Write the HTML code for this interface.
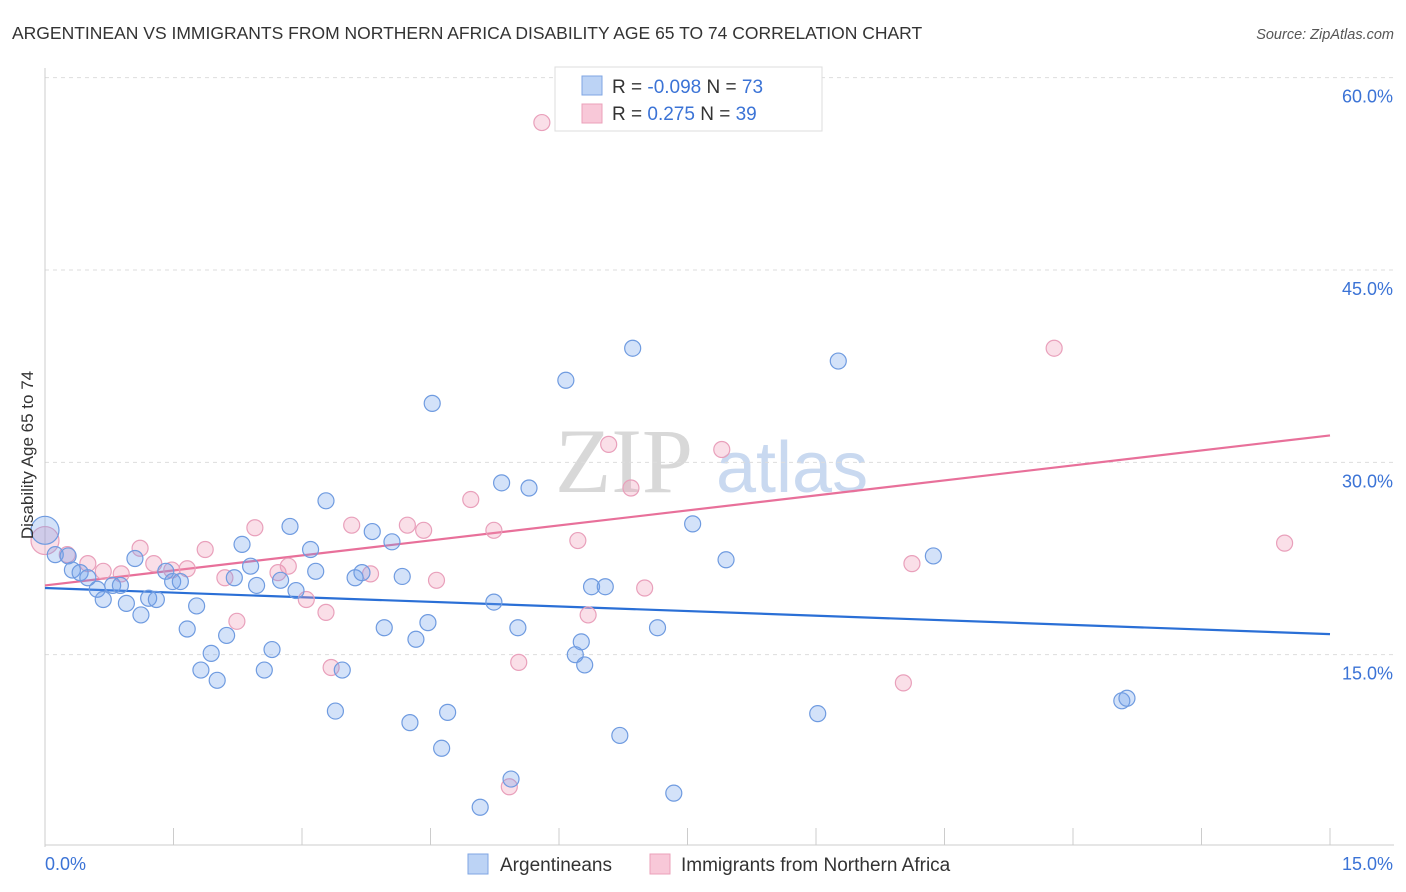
<!DOCTYPE html>
<html><head><meta charset="utf-8"><style>
body{margin:0;background:#fff;font-family:"Liberation Sans",sans-serif;}
svg{display:block}
</style></head><body>
<svg id="chart" width="1406" height="892" xmlns="http://www.w3.org/2000/svg">
<text x="12" y="39" font-size="17.5" fill="#333">ARGENTINEAN VS IMMIGRANTS FROM NORTHERN AFRICA DISABILITY AGE 65 TO 74 CORRELATION CHART</text>
<text x="1394" y="39" font-size="14.5" fill="#555" font-style="italic" text-anchor="end">Source: ZipAtlas.com</text>
<g>
<text x="555" y="492" font-size="92" fill="#d8d8d8" font-family="Liberation Serif,serif">ZIP</text>
<text x="716" y="492" font-size="72" fill="#c9d9f0">atlas</text>
</g>
<g id="grid"></g><g id="axes"></g><g id="lines"></g><g id="points"></g>
<text transform="translate(33,455) rotate(-90)" font-size="17" fill="#333" text-anchor="middle">Disability Age 65 to 74</text>
<g>
<rect x="555" y="67" width="267" height="64" fill="#fff" stroke="#ddd"/>
<rect x="582" y="76" width="20" height="19" fill="#bcd3f5" stroke="#7fa6e3"/>
<rect x="582" y="104" width="20" height="19" fill="#f8c8d8" stroke="#eba0ba"/>
<text x="612" y="93" font-size="19" fill="#333">R = <tspan fill="#3b73d6">-0.098</tspan>   N = <tspan fill="#3b73d6">73</tspan></text>
<text x="612" y="120" font-size="19" fill="#333">R =   <tspan fill="#3b73d6">0.275</tspan>   N = <tspan fill="#3b73d6">39</tspan></text>
</g>
<g>
<rect x="468" y="854" width="20" height="20" fill="#bcd3f5" stroke="#7fa6e3"/>
<text x="500" y="871" font-size="19" fill="#333">Argentineans</text>
<rect x="650" y="854" width="20" height="20" fill="#f8c8d8" stroke="#eba0ba"/>
<text x="681" y="871" font-size="19" fill="#333">Immigrants from Northern Africa</text>
</g>
</svg>
<script>
const yTicks=[15,30,45,60];
const yTickLabels=["15.0%","30.0%","45.0%","60.0%"];
const xTickLabels=["0.0%","15.0%"];
const blueX=[0,0.12,0.27,0.32,0.41,0.50,0.61,0.68,0.79,0.88,0.95,1.05,1.12,1.21,1.30,1.41,1.49,1.58,1.66,1.77,1.82,1.94,2.01,2.12,2.21,2.30,2.40,2.47,2.56,2.65,2.75,2.86,2.93,3.10,3.16,3.28,3.39,3.47,3.62,3.70,3.82,3.96,4.05,4.17,4.26,4.33,4.47,4.52,4.63,4.70,5.24,5.33,5.44,5.52,5.65,6.08,6.19,6.26,6.30,6.38,6.54,6.71,6.86,7.15,7.34,5.08,7.56,7.95,9.02,9.26,10.37,12.57,12.63];
const blueY=[24.7,22.8,22.7,21.6,21.4,21.0,20.1,19.3,20.4,20.4,19.0,22.5,18.1,19.4,19.3,21.5,20.7,20.7,17.0,18.8,13.8,15.1,13.0,16.5,21.0,23.6,21.9,20.4,13.8,15.4,20.8,25.0,20.0,23.2,21.5,27.0,10.6,13.8,21.0,21.4,24.6,17.1,23.8,21.1,9.7,16.2,17.5,34.6,7.7,10.5,19.1,28.4,5.3,17.1,28.0,36.4,15.0,16.0,14.2,20.3,20.3,8.7,38.9,17.1,4.2,3.1,25.2,22.4,10.4,37.9,22.7,11.4,11.6];
const pinkX=[0,0.26,0.50,0.68,0.89,1.11,1.27,1.48,1.66,1.87,2.10,2.24,2.45,2.72,2.84,3.05,3.28,3.34,3.58,3.80,4.23,4.42,4.57,4.97,5.24,5.42,5.53,5.80,6.22,6.34,6.58,6.84,7.00,7.90,8.81,10.02,10.12,11.78,14.47];
const pinkY=[23.9,22.8,22.1,21.5,21.3,23.3,22.1,21.6,21.7,23.2,21.0,17.6,24.9,21.4,21.9,19.3,18.3,14.0,25.1,21.3,25.1,24.7,20.8,27.1,24.7,4.7,14.4,56.5,23.9,18.1,31.4,28.0,20.2,31.0,57.2,12.8,22.1,38.9,23.7];
const blueTrend=[20.2,16.6];
const pinkTrend=[20.4,32.1];
const NS="http://www.w3.org/2000/svg";
const X0=45,X1=1330,Y0=847,YS=192.33/15;
function sx(v){return X0+v/15*(X1-X0);}
function sy(v){return Y0-v*YS;}
function mk(tag,attrs,parent){const e=document.createElementNS(NS,tag);for(const k in attrs)e.setAttribute(k,attrs[k]);document.getElementById(parent).appendChild(e);return e;}
yTicks.forEach((t,i)=>{
 const g=mk('line',{x1:X0,x2:1394,y1:sy(t),y2:sy(t),stroke:'#ddd','stroke-dasharray':'4,4'},'grid');
 
 
 const l=mk('text',{x:1393,y:sy(t)+25,'font-size':18,fill:'#3b73d6','text-anchor':'end'},'axes');
 l.textContent=yTickLabels[i];
 
 
});
const ax=mk('line',{x1:X0,x2:X0,y1:68,y2:Y0,stroke:'#ccc'},'axes');


const bx=mk('line',{x1:X0,x2:1394,y1:845,y2:845,stroke:'#ccc'},'axes');


for(let i=0;i<=10;i++){
 const t=mk('line',{x1:sx(i*1.5),x2:sx(i*1.5),y1:828,y2:845,stroke:'#ccc'},'axes');
 
 
}
const xl0=mk('text',{x:45,y:870,'font-size':18,fill:'#3b73d6'},'axes');xl0.textContent=xTickLabels[0];


const xl1=mk('text',{x:1393,y:870,'font-size':18,fill:'#3b73d6','text-anchor':'end'},'axes');xl1.textContent=xTickLabels[1];


function drawPts(xs,ys,fill,stroke,name){
 xs.forEach((x,i)=>{
  const c=mk('circle',{cx:sx(x),cy:sy(ys[i]),r:i===0?14:8,fill:fill,stroke:stroke,'stroke-width':1.2},'points');
  
  
 });
}
drawPts(pinkX,pinkY,'rgba(240,150,180,0.3)','#e9a0bb','point-immigrants');
drawPts(blueX,blueY,'rgba(110,160,235,0.3)','#6f9be0','point-argentineans');
const lb=mk('line',{x1:sx(0),y1:sy(blueTrend[0]),x2:sx(15),y2:sy(blueTrend[1]),stroke:'#2a6fd6','stroke-width':2.2},'lines');


const lp=mk('line',{x1:sx(0),y1:sy(pinkTrend[0]),x2:sx(15),y2:sy(pinkTrend[1]),stroke:'#e8709a','stroke-width':2.2},'lines');


</script>
</body></html>
